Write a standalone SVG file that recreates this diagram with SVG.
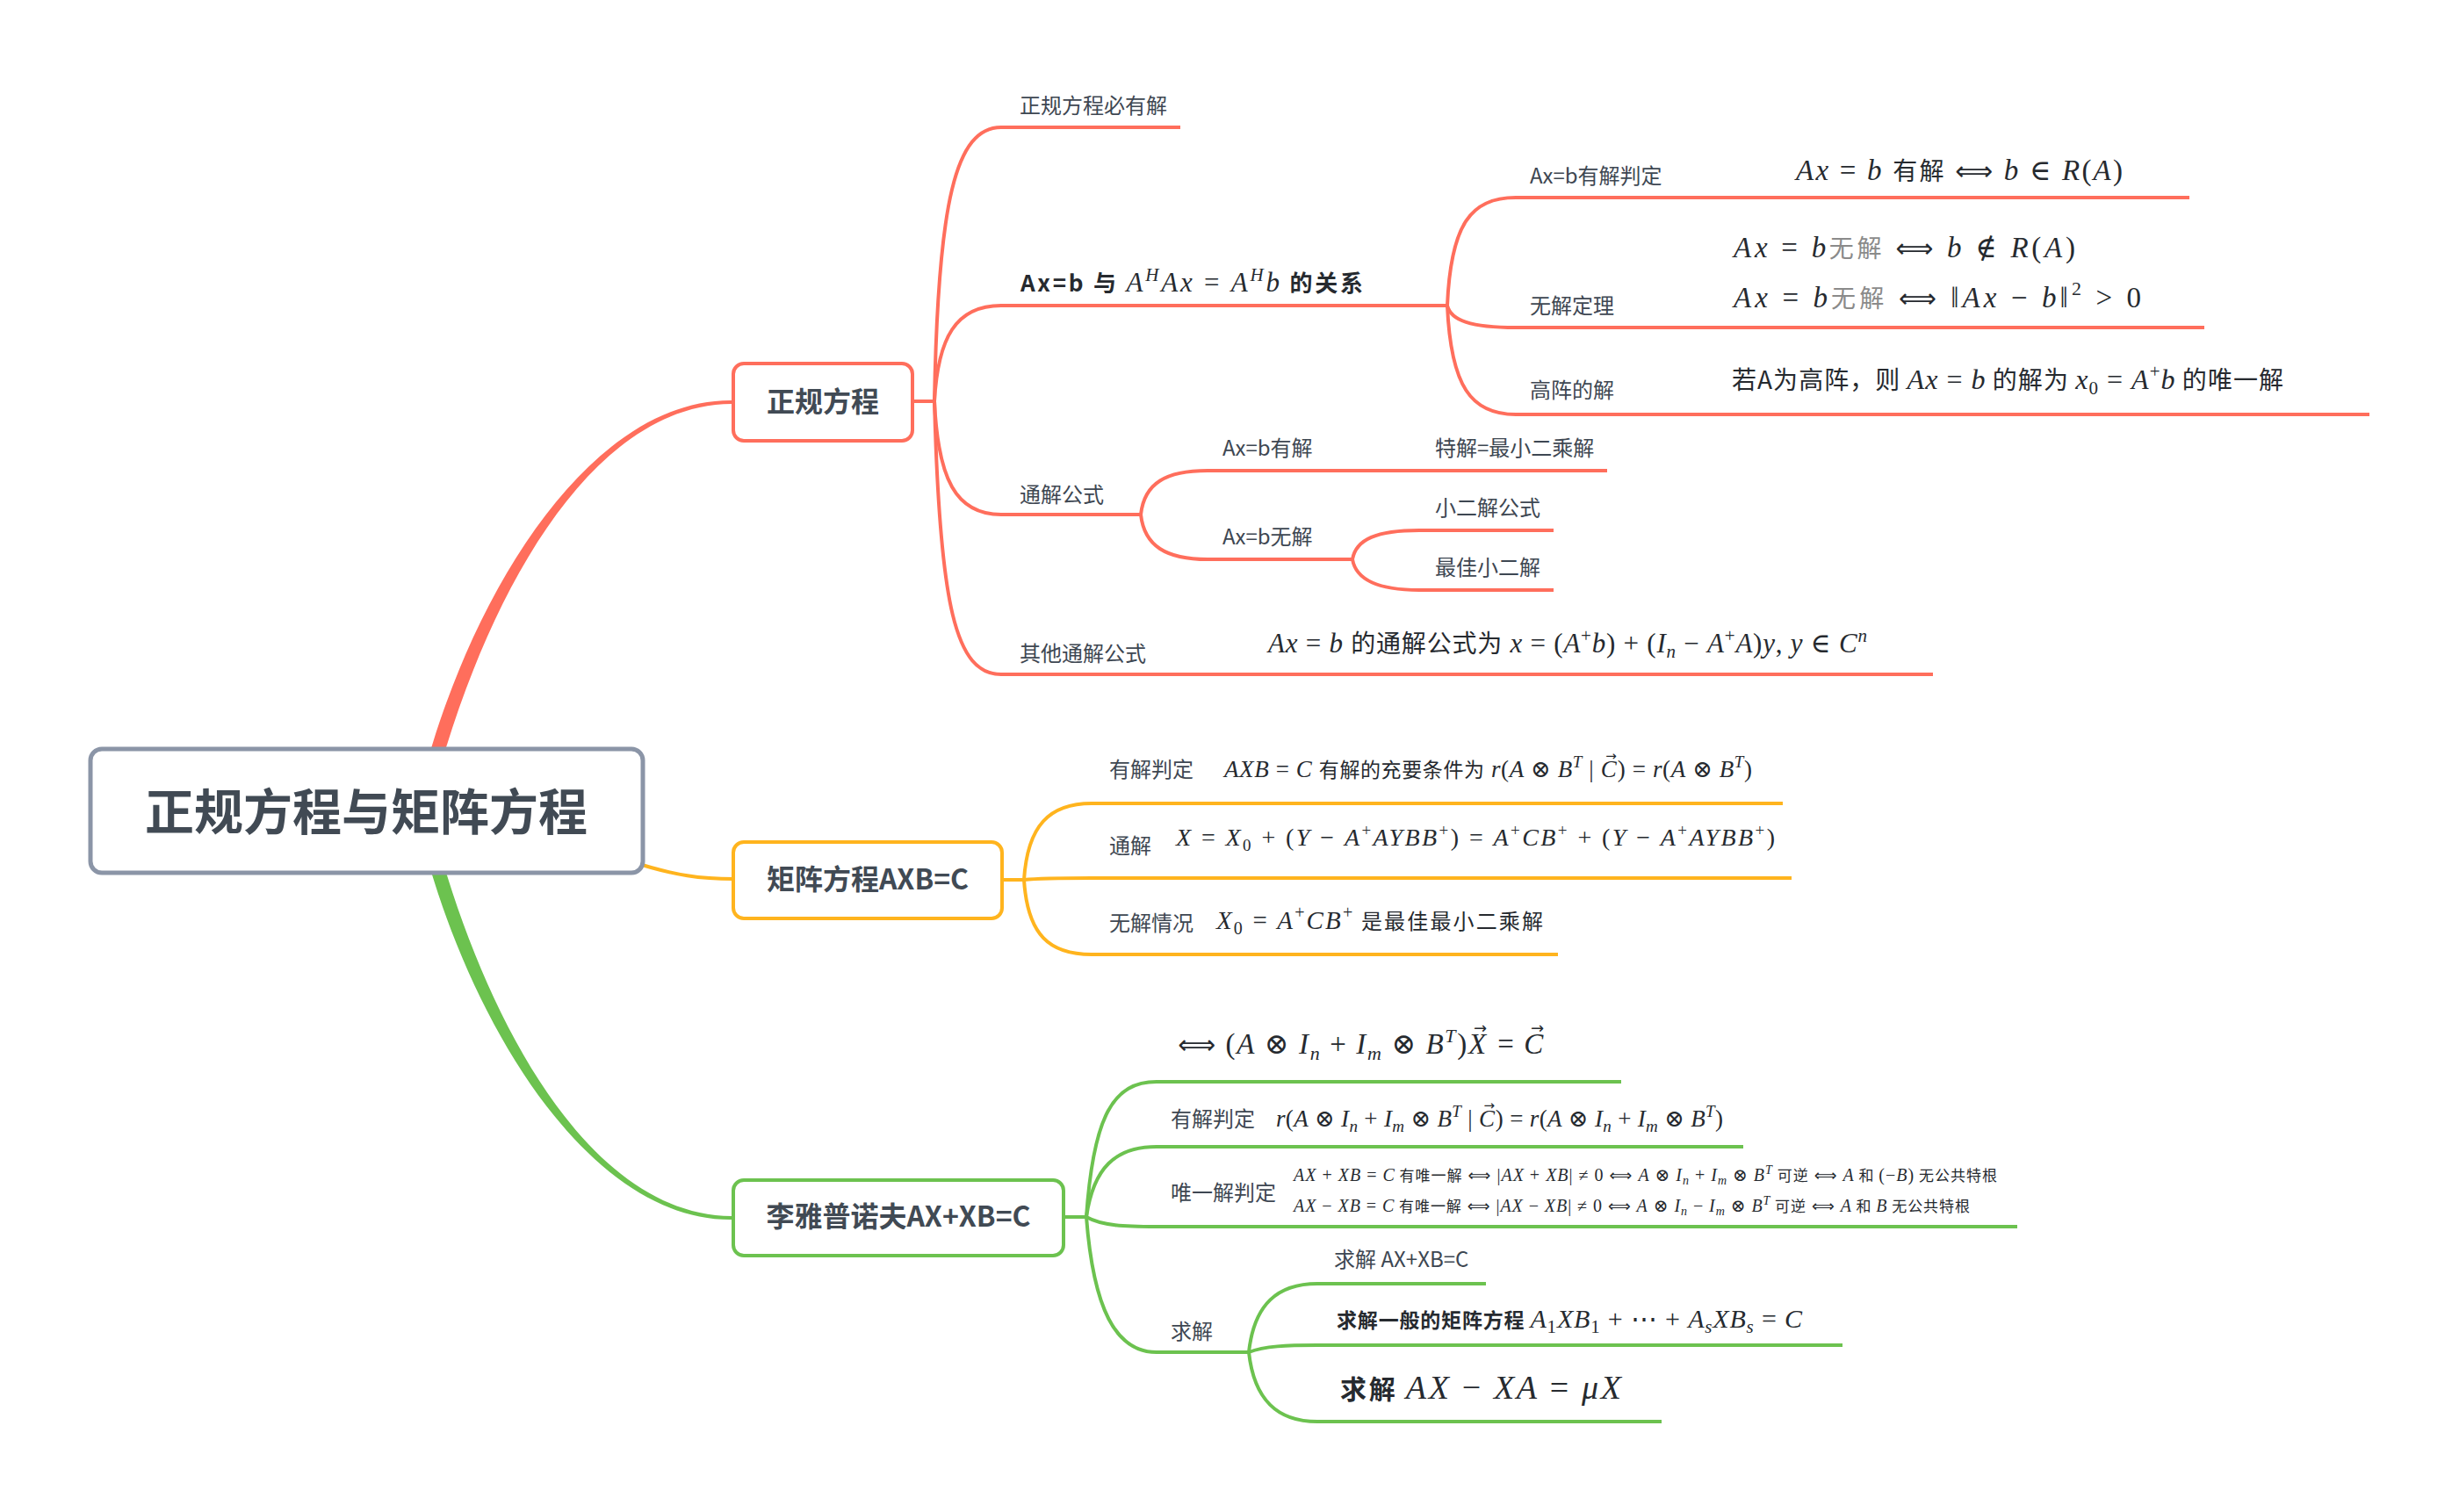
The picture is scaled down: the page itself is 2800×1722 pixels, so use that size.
<svg xmlns="http://www.w3.org/2000/svg" width="2800" height="1722" viewBox="0 0 2800 1722">
<style>
.bg{fill:#ffffff}
.lr{fill:none;stroke:#ff6e5c;stroke-width:4}
.lo{fill:none;stroke:#ffb41e;stroke-width:4}
.lg{fill:none;stroke:#6cc24f;stroke-width:4}
.box{fill:#ffffff;stroke-width:4}
.nt{font-family:"Noto Sans CJK SC","Noto Sans",sans-serif;font-weight:bold;fill:#414a54}
.lb{font-family:"Noto Sans CJK SC","Noto Sans",sans-serif;font-size:24px;fill:#3e4752}
.m{font-family:"Liberation Serif","DejaVu Serif",serif;fill:#262a2f}
.i{font-style:italic}
.c{font-family:"Noto Sans CJK SC","Noto Sans",sans-serif;font-style:normal}
.b{font-weight:bold}
.g{fill:#8a8a8a}
.v{font-family:"DejaVu Sans",sans-serif;font-style:normal}
</style>
<rect class="bg" x="0" y="0" width="2800" height="1722"/>

<g id="connectors">
  <path fill="#ff6e5c" d="M485,871.5 L492.35,847.65 C552.4,652.6 680,455 833,456 L833,460 C680,461 567.6,657.4 507.65,852.35 L500.3,876.2 Z"/>
  <path fill="#6cc24f" d="M485,973.5 L492.35,997.35 C552.4,1192.4 680,1390 833,1389 L833,1385 C680,1384 567.6,1187.6 507.65,992.65 L500.3,968.8 Z"/>
  <path class="lo" stroke-width="5.5" d="M715,980 C770,998 800,1001 836,1001"/>

  <path class="lr" d="M1038,457 H1064"/>
  <path class="lr" d="M1064,457 C1068,230 1088,145 1140,145 H1344"/>
  <path class="lr" d="M1064,457 C1068,385 1088,348 1140,348 H1648"/>
  <path class="lr" d="M1064,457 C1068,545 1088,586 1140,586 H1299"/>
  <path class="lr" d="M1064,457 C1070,690 1088,768 1140,768 H2201"/>
  <path class="lr" d="M1648,348 C1652,255 1675,225 1726,225 H2493"/>
  <path class="lr" d="M1648,348 C1652,365 1675,373 1726,373 H2510"/>
  <path class="lr" d="M1648,348 C1652,440 1675,472 1726,472 H2698"/>
  <path class="lr" d="M1299,586 C1303,550 1328,536 1375,536 H1830"/>
  <path class="lr" d="M1299,586 C1303,622 1328,637 1375,637 H1540"/>
  <path class="lr" d="M1540,637 C1544,614 1568,604 1616,604 H1769"/>
  <path class="lr" d="M1540,637 C1544,660 1568,672 1616,672 H1769"/>

  <path class="lo" d="M1140,1002 H1166"/>
  <path class="lo" d="M1166,1002 C1170,940 1195,915 1243,915 H2030"/>
  <path class="lo" d="M1166,1002 C1185,1000 1210,1000 1243,1000 H2040"/>
  <path class="lo" d="M1166,1002 C1170,1065 1195,1087 1243,1087 H1774"/>

  <path class="lg" d="M1210,1386 H1237"/>
  <path class="lg" d="M1237,1386 C1245,1270 1268,1232 1317,1232 H1846"/>
  <path class="lg" d="M1237,1386 C1245,1330 1270,1306 1317,1306 H1985"/>
  <path class="lg" d="M1237,1386 C1255,1396 1280,1397 1317,1397 H2297"/>
  <path class="lg" d="M1237,1386 C1245,1490 1270,1540 1317,1540 H1422"/>
  <path class="lg" d="M1422,1540 C1428,1485 1455,1462 1500,1462 H1692"/>
  <path class="lg" d="M1422,1540 C1440,1533 1465,1532 1500,1532 H2098"/>
  <path class="lg" d="M1422,1540 C1428,1595 1455,1619 1500,1619 H1892"/>
</g>

<g id="root">
  <rect x="103" y="853" width="629" height="141" rx="13" fill="#ffffff" stroke="#8b95a7" stroke-width="5"/>
  <text class="nt" x="417" y="945" font-size="56" text-anchor="middle">正规方程与矩阵方程</text>
</g>

<g id="n-zhenggui">
  <rect class="box" x="835" y="414" width="204" height="88" rx="12" stroke="#ff6e5c"/>
  <text class="nt" x="937" y="469" font-size="32" text-anchor="middle">正规方程</text>
</g>
<g id="n-juzhen">
  <rect class="box" x="835" y="959" width="306" height="87" rx="12" stroke="#ffb41e"/>
  <text class="nt" x="988" y="1013" font-size="32" text-anchor="middle">矩阵方程AXB=C</text>
</g>
<g id="n-lyapunov">
  <rect class="box" x="835" y="1344" width="376" height="86" rx="12" stroke="#6cc24f"/>
  <text class="nt" x="1023" y="1397" font-size="32" text-anchor="middle">李雅普诺夫AX+XB=C</text>
</g>

<g id="n-bi-you-jie"><text class="lb" x="1161" y="129">正规方程必有解</text></g>
<g id="n-guanxi">
  <text class="m" x="1162" y="332" font-size="31" textLength="390"><tspan class="c b" font-size="26">Ax=b 与 </tspan><tspan class="i">A</tspan><tspan class="i" dy="-12" font-size="21">H</tspan><tspan class="i" dy="12">Ax</tspan> = <tspan class="i">A</tspan><tspan class="i" dy="-12" font-size="21">H</tspan><tspan class="i" dy="12">b</tspan><tspan class="c b" font-size="26"> 的关系</tspan></text>
</g>
<g id="n-panding">
  <text class="lb" x="1742" y="209">Ax=b有解判定</text>
  <text class="m" x="2045" y="205" font-size="33" textLength="372"><tspan class="i">Ax</tspan> = <tspan class="i">b</tspan> <tspan class="c" font-size="28">有解</tspan> <tspan class="v" font-size="30">⟺</tspan> <tspan class="i">b</tspan> ∈ <tspan class="i">R</tspan>(<tspan class="i">A</tspan>)</text>
</g>
<g id="n-wujie-dingli">
  <text class="lb" x="1742" y="357">无解定理</text>
  <text class="m" x="1974" y="293" font-size="33" textLength="389"><tspan class="i">Ax</tspan> = <tspan class="i">b</tspan><tspan class="c g" font-size="28">无解</tspan> <tspan class="v" font-size="30">⟺</tspan> <tspan class="i">b</tspan> ∉ <tspan class="i">R</tspan>(<tspan class="i">A</tspan>)</text>
  <text class="m" x="1974" y="350" font-size="33" textLength="464"><tspan class="i">Ax</tspan> = <tspan class="i">b</tspan><tspan class="c g" font-size="28">无解</tspan> <tspan class="v" font-size="30">⟺</tspan> ‖<tspan class="i">Ax</tspan> − <tspan class="i">b</tspan>‖<tspan dy="-14" font-size="22">2</tspan><tspan dy="14"> &gt; 0</tspan></text>
</g>
<g id="n-gaozhen">
  <text class="lb" x="1742" y="453">高阵的解</text>
  <text class="m" x="1972" y="443" font-size="32" textLength="628"><tspan class="c" font-size="28">若A为高阵，则 </tspan><tspan class="i">Ax</tspan> = <tspan class="i">b</tspan><tspan class="c" font-size="28"> 的解为 </tspan><tspan class="i">x</tspan><tspan dy="6" font-size="21">0</tspan><tspan dy="-6"> = </tspan><tspan class="i">A</tspan><tspan dy="-13" font-size="21">+</tspan><tspan class="i" dy="13">b</tspan><tspan class="c" font-size="28"> 的唯一解</tspan></text>
</g>
<g id="n-tongjie-gongshi"><text class="lb" x="1161" y="572">通解公式</text></g>
<g id="n-youjie"><text class="lb" x="1392" y="519">Ax=b有解</text></g>
<g id="n-tejie"><text class="lb" x="1634" y="519">特解=最小二乘解</text></g>
<g id="n-wujie"><text class="lb" x="1392" y="620">Ax=b无解</text></g>
<g id="n-xiaoer"><text class="lb" x="1634" y="587">小二解公式</text></g>
<g id="n-zuijia"><text class="lb" x="1634" y="655">最佳小二解</text></g>
<g id="n-qita">
  <text class="lb" x="1161" y="753">其他通解公式</text>
  <text class="m" x="1444" y="743" font-size="31" textLength="682"><tspan class="i">Ax</tspan> = <tspan class="i">b</tspan> <tspan class="c" font-size="28">的通解公式为</tspan> <tspan class="i">x</tspan> = (<tspan class="i">A</tspan><tspan dy="-12" font-size="21">+</tspan><tspan class="i" dy="12">b</tspan>) + (<tspan class="i">I</tspan><tspan class="i" dy="6" font-size="21">n</tspan><tspan dy="-6"> − </tspan><tspan class="i">A</tspan><tspan dy="-12" font-size="21">+</tspan><tspan class="i" dy="12">A</tspan>)<tspan class="i">y</tspan>, <tspan class="i">y</tspan> ∈ <tspan class="i">C</tspan><tspan class="i" dy="-12" font-size="21">n</tspan></text>
</g>

<g id="n-m-panding">
  <text class="lb" x="1263" y="885">有解判定</text>
  <text class="m" x="1394" y="885" font-size="27" textLength="601"><tspan class="i">AXB</tspan> = <tspan class="i">C</tspan> <tspan class="c" font-size="23">有解的充要条件为</tspan> <tspan class="i">r</tspan>(<tspan class="i">A</tspan> ⊗ <tspan class="i">B</tspan><tspan class="i" dy="-11" font-size="19">T</tspan><tspan dy="11"> | </tspan><tspan class="i">C</tspan><tspan class="v" dx="-13" dy="-19" font-size="15">→</tspan><tspan dx="0.4" dy="19">) = </tspan><tspan class="i">r</tspan>(<tspan class="i">A</tspan> ⊗ <tspan class="i">B</tspan><tspan class="i" dy="-11" font-size="19">T</tspan><tspan dy="11">)</tspan></text>
</g>
<g id="n-m-tongjie">
  <text class="lb" x="1263" y="972">通解</text>
  <text class="m" x="1339" y="963" font-size="28" textLength="682"><tspan class="i">X</tspan> = <tspan class="i">X</tspan><tspan dy="6" font-size="19">0</tspan><tspan dy="-6"> + (</tspan><tspan class="i">Y</tspan> − <tspan class="i">A</tspan><tspan dy="-11" font-size="19">+</tspan><tspan class="i" dy="11">AYBB</tspan><tspan dy="-11" font-size="19">+</tspan><tspan dy="11">) = </tspan><tspan class="i">A</tspan><tspan dy="-11" font-size="19">+</tspan><tspan class="i" dy="11">CB</tspan><tspan dy="-11" font-size="19">+</tspan><tspan dy="11"> + (</tspan><tspan class="i">Y</tspan> − <tspan class="i">A</tspan><tspan dy="-11" font-size="19">+</tspan><tspan class="i" dy="11">AYBB</tspan><tspan dy="-11" font-size="19">+</tspan><tspan dy="11">)</tspan></text>
</g>
<g id="n-m-wujie">
  <text class="lb" x="1263" y="1060">无解情况</text>
  <text class="m" x="1385" y="1058" font-size="29" textLength="372"><tspan class="i">X</tspan><tspan dy="6" font-size="20">0</tspan><tspan dy="-6"> = </tspan><tspan class="i">A</tspan><tspan dy="-12" font-size="20">+</tspan><tspan class="i" dy="12">CB</tspan><tspan dy="-12" font-size="20">+</tspan><tspan class="c" dy="12" font-size="24"> 是最佳最小二乘解</tspan></text>
</g>

<g id="n-l-dengjia">
  <text class="m" x="1341" y="1200" font-size="33" textLength="418"><tspan class="v" font-size="30">⟺</tspan> (<tspan class="i">A</tspan> ⊗ <tspan class="i">I</tspan><tspan class="i" dy="7" font-size="22">n</tspan><tspan dy="-7"> + </tspan><tspan class="i">I</tspan><tspan class="i" dy="7" font-size="22">m</tspan><tspan dy="-7"> ⊗ </tspan><tspan class="i">B</tspan><tspan class="i" dy="-13" font-size="22">T</tspan><tspan dy="13">)</tspan><tspan class="i">X</tspan><tspan class="v" dx="-15.6" dy="-23" font-size="18">→</tspan><tspan dx="0.5" dy="23"> = </tspan><tspan class="i">C</tspan><tspan class="v" dx="-16" dy="-23" font-size="18">→</tspan></text>
</g>
<g id="n-l-panding">
  <text class="lb" x="1333" y="1283">有解判定</text>
  <text class="m" x="1453" y="1283" font-size="27" textLength="509"><tspan class="i">r</tspan>(<tspan class="i">A</tspan> ⊗ <tspan class="i">I</tspan><tspan class="i" dy="6" font-size="19">n</tspan><tspan dy="-6"> + </tspan><tspan class="i">I</tspan><tspan class="i" dy="6" font-size="19">m</tspan><tspan dy="-6"> ⊗ </tspan><tspan class="i">B</tspan><tspan class="i" dy="-11" font-size="19">T</tspan><tspan dy="11"> | </tspan><tspan class="i">C</tspan><tspan class="v" dx="-13" dy="-19" font-size="15">→</tspan><tspan dx="0.4" dy="19">) = </tspan><tspan class="i">r</tspan>(<tspan class="i">A</tspan> ⊗ <tspan class="i">I</tspan><tspan class="i" dy="6" font-size="19">n</tspan><tspan dy="-6"> + </tspan><tspan class="i">I</tspan><tspan class="i" dy="6" font-size="19">m</tspan><tspan dy="-6"> ⊗ </tspan><tspan class="i">B</tspan><tspan class="i" dy="-11" font-size="19">T</tspan><tspan dy="11">)</tspan></text>
</g>
<g id="n-l-weiyi">
  <text class="lb" x="1333" y="1367">唯一解判定</text>
  <text class="m" x="1473" y="1345" font-size="20" textLength="801"><tspan class="i">AX</tspan> + <tspan class="i">XB</tspan> = <tspan class="i">C</tspan><tspan class="c" font-size="17"> 有唯一解</tspan> <tspan class="v" font-size="18">⟺</tspan> |<tspan class="i">AX</tspan> + <tspan class="i">XB</tspan>| ≠ 0 <tspan class="v" font-size="18">⟺</tspan> <tspan class="i">A</tspan> ⊗ <tspan class="i">I</tspan><tspan class="i" dy="4" font-size="14">n</tspan><tspan dy="-4"> + </tspan><tspan class="i">I</tspan><tspan class="i" dy="4" font-size="14">m</tspan><tspan dy="-4"> ⊗ </tspan><tspan class="i">B</tspan><tspan class="i" dy="-8" font-size="14">T</tspan><tspan class="c" dy="8" font-size="17"> 可逆</tspan> <tspan class="v" font-size="18">⟺</tspan> <tspan class="i">A</tspan><tspan class="c" font-size="17"> 和 </tspan>(−<tspan class="i">B</tspan>)<tspan class="c" font-size="17"> 无公共特根</tspan></text>
  <text class="m" x="1473" y="1380" font-size="20" textLength="770"><tspan class="i">AX</tspan> − <tspan class="i">XB</tspan> = <tspan class="i">C</tspan><tspan class="c" font-size="17"> 有唯一解</tspan> <tspan class="v" font-size="18">⟺</tspan> |<tspan class="i">AX</tspan> − <tspan class="i">XB</tspan>| ≠ 0 <tspan class="v" font-size="18">⟺</tspan> <tspan class="i">A</tspan> ⊗ <tspan class="i">I</tspan><tspan class="i" dy="4" font-size="14">n</tspan><tspan dy="-4"> − </tspan><tspan class="i">I</tspan><tspan class="i" dy="4" font-size="14">m</tspan><tspan dy="-4"> ⊗ </tspan><tspan class="i">B</tspan><tspan class="i" dy="-8" font-size="14">T</tspan><tspan class="c" dy="8" font-size="17"> 可逆</tspan> <tspan class="v" font-size="18">⟺</tspan> <tspan class="i">A</tspan><tspan class="c" font-size="17"> 和 </tspan><tspan class="i">B</tspan><tspan class="c" font-size="17"> 无公共特根</tspan></text>
</g>
<g id="n-l-qiujie"><text class="lb" x="1333" y="1525">求解</text></g>
<g id="n-l-qiujie1"><text class="lb" x="1519" y="1443">求解 AX+XB=C</text></g>
<g id="n-l-qiujie2">
  <text class="m" x="1522" y="1512" font-size="30" textLength="530"><tspan class="c b" font-size="23">求解一般的矩阵方程 </tspan><tspan class="i">A</tspan><tspan dy="6" font-size="21">1</tspan><tspan class="i" dy="-6">XB</tspan><tspan dy="6" font-size="21">1</tspan><tspan dy="-6"> + ⋯ + </tspan><tspan class="i">A</tspan><tspan class="i" dy="6" font-size="21">s</tspan><tspan class="i" dy="-6">XB</tspan><tspan class="i" dy="6" font-size="21">s</tspan><tspan dy="-6"> = </tspan><tspan class="i">C</tspan></text>
</g>
<g id="n-l-qiujie3">
  <text class="m" x="1526" y="1593" font-size="38" textLength="320"><tspan class="c b" font-size="30">求解 </tspan><tspan class="i">AX</tspan> − <tspan class="i">XA</tspan> = <tspan class="i">μX</tspan></text>
</g>
</svg>
